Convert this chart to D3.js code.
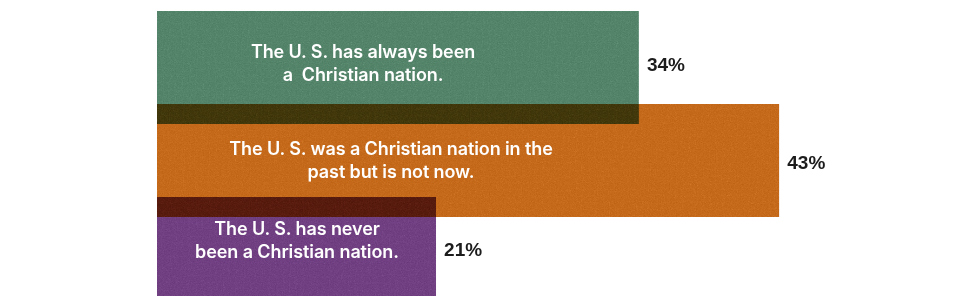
<!DOCTYPE html>
<html>
<head>
<meta charset="utf-8">
<script src="https://cdn.jsdelivr.net/npm/d3@7"></script>
<style>
  html, body { margin: 0; padding: 0; background: #ffffff; }
  svg { display: block; }
</style>
</head>
<body>
<div id="chart"></div>
<script>
// ---- data ----
const categories = ["always", "past", "never"];
const labels = [
  ["The U. S. has always been", "a  Christian nation."],
  ["The U. S. was a Christian nation in the", "past but is not now."],
  ["The U. S. has never", "been a Christian nation."]
];
const values = [34, 43, 21];
const valueLabels = ["34%", "43%", "21%"];
const colors = ["#5e8e74", "#cf7424", "#7b4a8c"];

// ---- layout (positions, not data) ----
const W = 980, H = 306;
const plotLeft = 157;
const plotTop = 11, plotBottom = 296;
const step = 93, overlap = 20;
const labelCx = [363, 391, 297];   // horizontal centre of each text block
const labelCy = [63, 160, 240];    // vertical centre of each text block
const valueCy = [64, 162, 249];

const svg = d3.select("#chart").append("svg")
  .attr("width", W).attr("height", H);

const defs = svg.append("defs");
const f = defs.append("filter").attr("id", "grain")
  .attr("color-interpolation-filters", "sRGB")
  .attr("x", 0).attr("y", 0).attr("width", 1).attr("height", 1);
f.append("feTurbulence").attr("type", "fractalNoise")
  .attr("baseFrequency", 0.85).attr("numOctaves", 2).attr("seed", 3).attr("result", "noise");
f.append("feColorMatrix").attr("in", "noise").attr("type", "saturate").attr("values", 0).attr("result", "gray");
f.append("feComposite").attr("in", "SourceGraphic").attr("in2", "gray")
  .attr("operator", "arithmetic").attr("k1", 0).attr("k2", 1).attr("k3", 0.2).attr("k4", -0.1)
  .attr("result", "mix");
f.append("feComposite").attr("in", "mix").attr("in2", "SourceGraphic").attr("operator", "in");

defs.append("clipPath").attr("id", "plotclip")
  .append("rect").attr("x", 0).attr("y", plotTop).attr("width", W).attr("height", plotBottom - plotTop);

// x scale: bars start at the plot's left edge (axis break)
const x = d3.scaleLinear().domain([0, 43]).range([108.5, 779.3]);
const y = d3.scaleBand().domain(categories).range([plotTop, plotTop + step * categories.length]).padding(0);

const g = svg.append("g").attr("clip-path", "url(#plotclip)").style("isolation", "isolate");

g.selectAll("rect.bar")
  .data(values)
  .join("rect")
  .attr("class", "bar")
  .attr("x", plotLeft)
  .attr("y", (d, i) => y(categories[i]))
  .attr("width", d => x(d) - plotLeft)
  .attr("height", y.bandwidth() + overlap)
  .attr("fill", (d, i) => colors[i])
  .attr("filter", "url(#grain)")
  .style("mix-blend-mode", "multiply");

// category labels inside bars
const lineH = 23;
labels.forEach((lines, i) => {
  const t = svg.append("text")
    .attr("text-anchor", "middle")
    .attr("fill", "#ffffff")
    .style("font-family", "Inter, 'Open Sans', sans-serif")
    .style("font-weight", 600)
    .style("font-size", "18px")
    .style("letter-spacing", "-0.1px")
    .style("white-space", "pre");
  lines.forEach((ln, j) => {
    t.append("tspan")
      .attr("x", labelCx[i])
      .attr("y", labelCy[i] + (j - (lines.length - 1) / 2) * lineH)
      .attr("dy", "0.36em")
      .text(ln);
  });
});

// value labels
svg.selectAll("text.val")
  .data(values)
  .join("text")
  .attr("class", "val")
  .attr("x", d => x(d) + 8)
  .attr("y", (d, i) => valueCy[i])
  .attr("dy", "0.36em")
  .attr("fill", "#1c1c1c")
  .style("font-family", "'Liberation Sans', Arial, sans-serif")
  .style("font-weight", 700)
  .style("font-size", "19px")
  .text((d, i) => valueLabels[i]);
</script>
</body>
</html>
